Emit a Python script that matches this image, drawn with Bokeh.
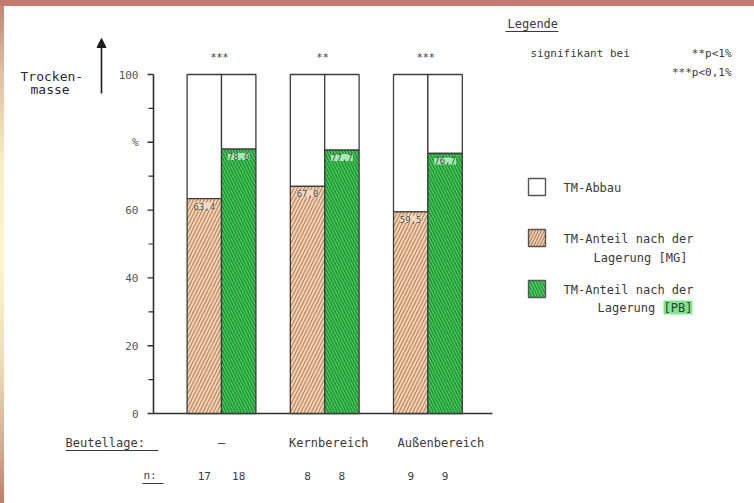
from bokeh.plotting import figure
from bokeh.core.properties import value
from bokeh.models import (ColumnDataSource, LabelSet, Label, Arrow, NormalHead,
                          Range1d)
from bokeh.embed import file_html
from bokeh.resources import INLINE

# ---- data -----------------------------------------------------------------
groups = ["\u2014", "Kernbereich", "Außenbereich"]     # Beutellage
mg_share = [63.4, 67.0, 59.5]      # TM-Anteil nach der Lagerung [MG], %
pb_share = [78.0, 77.7, 76.7]      # TM-Anteil nach der Lagerung [PB], %
n_mg = [17, 8, 9]
n_pb = [18, 8, 9]
significance = ["***", "**", "***"]
y_ticks = [0, 20, 40, 60, 80, 100]
y_minor = [10, 30, 50, 70, 90]
y_tick_labels = ["0", "20", "40", "60", "%", "100"]

# ---- layout constants -------------------------------------------------------
W, H = 754, 503
AXIS_PX = 153             # screen x of the value axis
ZERO_PY = 413             # screen y of 0 %
END_PX = 492              # screen x where the base line ends
PX_PER_PCT = 3.39
PX_PER_BAR = 34.4
GROUP_STEP = 3            # group centres, in bar widths
ORIGIN_PX = 221           # screen x of the first group centre

FONT = "DejaVu Sans Mono"
INK = "#3a3a3a"
AXIS_INK = "#2e2e2e"
MG_FILL, MG_HATCH = "#F4D2B2", "#B08262"
PB_FILL, PB_HATCH = "#5ED56E", "#1E9B35"


def sx(px):
    """screen x (from left) -> data x"""
    return (px - ORIGIN_PX) / PX_PER_BAR


def sy(py):
    """screen y (from top) -> data y"""
    return (ZERO_PY - py) / PX_PER_PCT


group_x = [i * GROUP_STEP for i in range(len(groups))]
mg_x = [g - 0.5 for g in group_x]
pb_x = [g + 0.5 for g in group_x]

p = figure(width=W, height=H, output_backend="svg", toolbar_location=None,
           x_range=Range1d(sx(0), sx(W)), y_range=Range1d(sy(H), sy(0)),
           min_border=0)
p.axis.visible = False
p.background_fill_color = None
p.border_fill_color = None
p.outline_line_color = None
p.grid.visible = False
p.styles = {
    "background": (
        "linear-gradient(#C27B6D, #C27B6D) left top / 100% 6px no-repeat, "
        "linear-gradient(to bottom, #C47E70 0%, #E0BEA0 14%, #F6EEC0 32%, "
        "#FBF7CA 52%, #EEDDB6 72%, #D6AE92 88%, #C27B6D 100%) "
        "left top / 4px 100% no-repeat, #ffffff"
    )
}


def label_set(xs, ys, texts, size, align="center", color=INK, **kw):
    src = ColumnDataSource(dict(x=xs, y=ys, text=texts))
    p.add_layout(LabelSet(x="x", y="y", text="text", source=src,
                          text_align=align, text_baseline="middle",
                          text_font=value(FONT), text_font_size=value(size),
                          text_color=value(color), **kw))


# ---- value axis and base line ---------------------------------------------
ax_x = sx(AXIS_PX)
p.segment(x0=ax_x, x1=ax_x, y0=0, y1=100, line_color=AXIS_INK, line_width=1.6)
p.segment(x0=ax_x, x1=sx(END_PX), y0=0, y1=0, line_color=AXIS_INK,
          line_width=1.6)
p.segment(x0=[sx(AXIS_PX - 6)] * len(y_ticks), x1=[ax_x] * len(y_ticks),
          y0=y_ticks, y1=y_ticks, line_color=AXIS_INK, line_width=1.4)
p.segment(x0=[sx(AXIS_PX - 5)] * len(y_minor), x1=[ax_x] * len(y_minor),
          y0=y_minor, y1=y_minor, line_color=AXIS_INK, line_width=1.2)
label_set([sx(138)] * len(y_ticks), y_ticks, y_tick_labels, "11px",
          align="right", color="#555555")

# ---- bars -------------------------------------------------------------------
bar_line = dict(line_color="#3c3c3c", line_width=1.3)
p.vbar(x=mg_x, bottom=mg_share, top=100, width=1, fill_color="white", **bar_line)
p.vbar(x=pb_x, bottom=pb_share, top=100, width=1, fill_color="white", **bar_line)
p.vbar(x=mg_x, bottom=0, top=mg_share, width=1, fill_color=MG_FILL,
       hatch_pattern="/", hatch_color=MG_HATCH, hatch_scale=7, hatch_weight=1.1,
       **bar_line)
p.vbar(x=pb_x, bottom=0, top=pb_share, width=1, fill_color=PB_FILL,
       hatch_pattern="\\", hatch_color=PB_HATCH, hatch_scale=6, hatch_weight=1.8,
       **bar_line)


def fmt(v):
    return f"{v:.1f}".replace(".", ",")


# value labels at the top of each coloured part
val_src = ColumnDataSource(dict(
    x=mg_x + pb_x,
    y=mg_share + pb_share,
    text=[fmt(v) for v in mg_share + pb_share],
    bg=["#F7DDC6"] * len(mg_x) + ["#B5EFBD"] * len(pb_x),
))
p.add_layout(LabelSet(x="x", y="y", text="text", source=val_src,
                      y_offset=-4, text_align="center", text_baseline="top",
                      text_font=value(FONT), text_font_size=value("9px"),
                      text_color=value("#4a4a4a"),
                      background_fill_color="bg", background_fill_alpha=0.9))

# significance stars
label_set([g - 0.06 for g in group_x], [sy(57)] * len(group_x), significance,
          "10px")

# group captions and sample sizes below the base line
label_set([g + d for g, d in zip(group_x, [0, 0.12, 0.38])],
          [sy(442)] * len(group_x), groups, "12px")
label_set(mg_x + pb_x, [sy(475)] * (len(mg_x) + len(pb_x)),
          [str(n) for n in n_mg + n_pb], "11px")


def label(px, py, text, size="12px", align="left", color=INK, **kw):
    p.add_layout(Label(x=sx(px), y=sy(py), text=text, text_align=align,
                       text_baseline="middle", text_font=FONT,
                       text_font_size=size, text_color=color, **kw))


def underline(px0, px1, py):
    p.segment(x0=sx(px0), x1=sx(px1), y0=sy(py), y1=sy(py),
              line_color=INK, line_width=1.2)


# value axis caption with arrow
label(20, 76, "Trocken-", size="13px", color="#2a2a2a")
label(30, 89, "masse", size="13px", color="#2a2a2a")
p.add_layout(Arrow(end=NormalHead(size=9, fill_color="#1e1e1e",
                                  line_color="#1e1e1e"),
                   x_start=sx(101), y_start=sy(93), x_end=sx(101), y_end=sy(38),
                   line_color="#1e1e1e", line_width=1.6))

label(65, 442, "Beutellage:", size="12px")
underline(65, 158, 450)
label(143, 475, "n:", size="11px")
underline(142, 163, 483)

# ---- legend -----------------------------------------------------------------
label(507, 23, "Legende", size="12px")
underline(505, 558, 31)
label(530, 53, "signifikant bei", size="11px")
label(731, 53, "**p<1%", size="11px", align="right")
label(731, 72, "***p<0,1%", size="11px", align="right")

box = dict(line_color="#555555", line_width=1.4)
p.quad(left=sx(528), right=sx(545), top=sy(178), bottom=sy(195),
       fill_color="white", **box)
p.quad(left=sx(528), right=sx(545), top=sy(229), bottom=sy(246),
       fill_color=MG_FILL, hatch_pattern="/", hatch_color=MG_HATCH,
       hatch_scale=6, hatch_weight=1.2, **box)
p.quad(left=sx(528), right=sx(545), top=sy(280), bottom=sy(297),
       fill_color=PB_FILL, hatch_pattern="\\", hatch_color=PB_HATCH,
       hatch_scale=6, hatch_weight=1.6, **box)

label(563, 187, "TM-Abbau")
label(563, 238, "TM-Anteil nach der")
label(593, 257, "Lagerung [MG]")
label(563, 289, "TM-Anteil nach der")
label(597, 307, "Lagerung")
label(663, 307, "[PB]", background_fill_color="#7FE58C")

open("out.html", "w").write(file_html(p, INLINE))
